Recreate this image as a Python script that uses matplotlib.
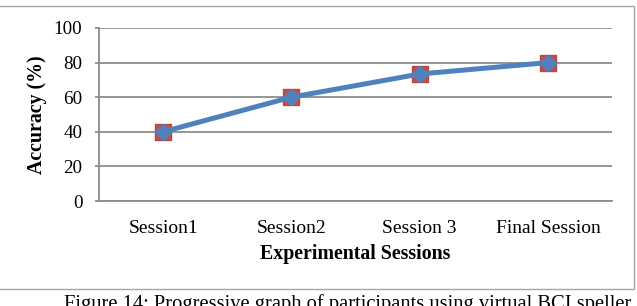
import matplotlib
matplotlib.use("Agg")
import matplotlib.pyplot as plt
from matplotlib.patches import Rectangle

categories = ["Session1", "Session2", "Session 3", "Final Session"]
accuracy_a = [40, 60, 73.4, 80]
accuracy_b = [40, 60, 73.4, 80]
y_ticks = [0, 20, 40, 60, 80, 100]

plt.rcParams['font.family'] = ['Liberation Serif', 'DejaVu Serif']

W, H = 637, 306
fig = plt.figure(figsize=(W / 100, H / 100), dpi=100)
fig.patch.set_facecolor('white')

# chart frame
fig.add_artist(Rectangle((-0.01, 1 - 289 / H), 634 / W + 0.01, (289 - 6) / H,
                         transform=fig.transFigure, fill=False,
                         edgecolor='#a6a6a6', linewidth=1.0))

ax = fig.add_axes([99 / W, 1 - 201 / H, (612 - 99) / W, (201 - 28) / H])
x = list(range(len(categories)))

ax.plot(x, accuracy_a, linestyle='none', marker='s', markersize=11,
        markerfacecolor='#c0504d', markeredgecolor='#b04a47', zorder=3)
ax.plot(x, accuracy_b, color='#4f81bd', linewidth=3.6, marker='D',
        markersize=7.8, markerfacecolor='#4f81bd', markeredgecolor='#4f81bd',
        zorder=4, solid_capstyle='round')

ax.set_xlim(-0.5, len(categories) - 0.5)
ax.set_ylim(0, 100)
ax.set_yticks(y_ticks)
ax.set_yticklabels([str(t) for t in y_ticks], fontsize=13.7)
ax.set_xticks(x)
ax.set_xticklabels(categories, fontsize=14)

ax.grid(axis='y', color='#8c8c8c', linewidth=1.3)
ax.set_axisbelow(True)
for s in ['top', 'right']:
    ax.spines[s].set_visible(False)
ax.spines['left'].set_color('#8c8c8c')
ax.spines['bottom'].set_color('#8c8c8c')
ax.spines['left'].set_linewidth(1.3)
ax.spines['bottom'].set_linewidth(1.3)
ax.tick_params(axis='y', length=3, width=1.3, color='#8c8c8c', pad=9)
ax.tick_params(axis='x', length=0, pad=14)

fig.text(37 / W, 1 - 115 / H, "Accuracy (%)", rotation=90, ha='center',
         va='center', fontsize=14.3, fontweight='bold')
fig.text(355.5 / W, 1 - 254 / H, "Experimental Sessions", ha='center',
         va='center', fontsize=14.3, fontweight='bold')
fig.text(347.5 / W, 1 - 309 / H,
         "Figure 14: Progressive graph of participants using virtual BCI speller",
         ha='center', va='baseline', fontsize=14.8)

fig.savefig("out.png", dpi=100)
